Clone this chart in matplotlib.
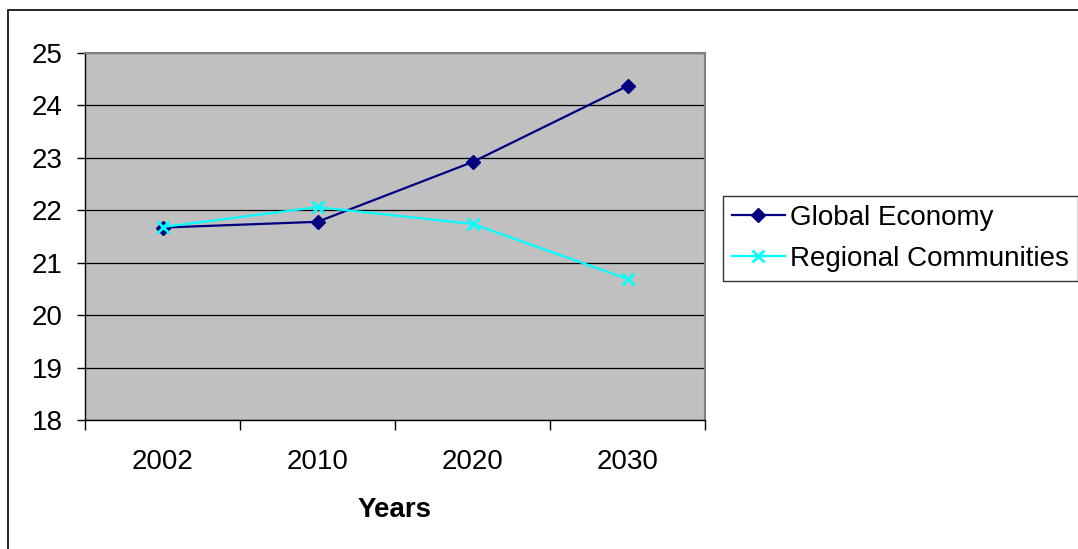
import matplotlib
matplotlib.use("Agg")
import matplotlib.pyplot as plt
from matplotlib.patches import Rectangle

plt.rcParams["font.family"] = ["Liberation Sans", "DejaVu Sans"]

years = ["2002", "2010", "2020", "2030"]
global_economy = [21.67, 21.78, 22.92, 24.37]
regional_communities = [21.68, 22.06, 21.74, 20.69]

W, H = 1078, 549
FS = 20
fig = plt.figure(figsize=(W / 100, H / 100), dpi=100)

# outer chart frame (runs off the right and bottom edges)
fig.patches.append(Rectangle((8 / W, -0.1), 1.2, 1 - 10 / H + 0.1,
                             transform=fig.transFigure, fill=False,
                             edgecolor="black", linewidth=1.2))

ax = fig.add_axes([85 / W, 1 - 420 / H, 620 / W, 367 / H])
ax.set_facecolor("#C0C0C0")

x = range(len(years))
ax.plot(x, global_economy, color="#000080", linewidth=1.6, marker="D",
        markersize=7.5, label="Global Economy", zorder=3)
ax.plot(x, regional_communities, color="#00FFFF", linewidth=1.6, marker="x",
        markersize=9, markeredgewidth=2, label="Regional Communities", zorder=3)

ax.set_xlim(-0.5, len(years) - 0.5)
ax.set_ylim(18, 25)
ax.set_yticks(range(18, 26))
ax.tick_params(axis="y", direction="out", length=6, width=1, pad=10, labelsize=FS)
ax.grid(axis="y", color="black", linewidth=0.9)
ax.set_axisbelow(True)

# category boundaries get the tick marks, labels sit between them
ax.set_xticks([i - 0.5 for i in range(len(years) + 1)])
ax.set_xticklabels([])
ax.set_xticks(list(x), minor=True)
ax.set_xticklabels(years, minor=True)
ax.tick_params(axis="x", which="major", direction="out", length=7, width=1)
ax.tick_params(axis="x", which="minor", length=0, pad=21, labelsize=FS)

for side in ("left", "bottom"):
    ax.spines[side].set_color("black")
    ax.spines[side].set_linewidth(1)
for side in ("top", "right"):
    ax.spines[side].set_color("#808080")
    ax.spines[side].set_linewidth(1.5)

ax.set_xlabel("Years", fontsize=FS, fontweight="bold", labelpad=16)

leg = fig.legend(loc="upper left", bbox_to_anchor=(723 / W, 1 - 196 / H),
                 fontsize=FS, frameon=True, fancybox=False, handlelength=1.9,
                 handletextpad=0.2, borderpad=0.32, labelspacing=0.55,
                 borderaxespad=0)
leg.get_frame().set_edgecolor("black")
leg.get_frame().set_linewidth(1)

fig.savefig("out.png", dpi=100)
